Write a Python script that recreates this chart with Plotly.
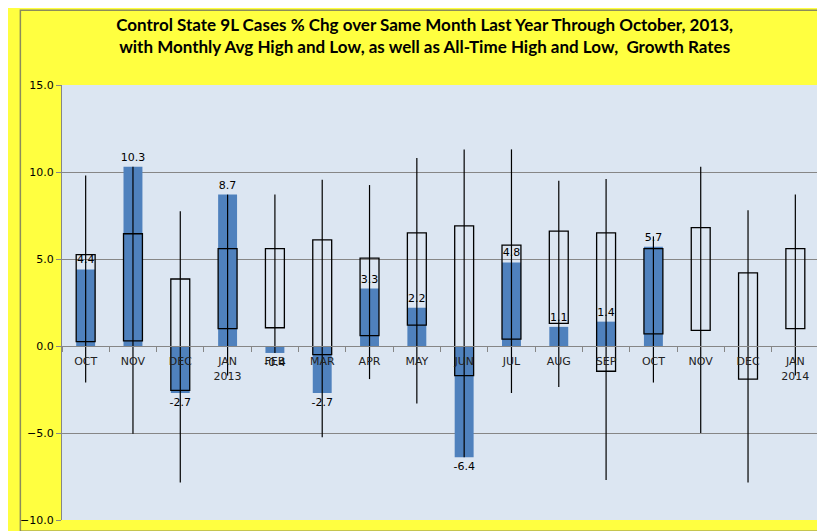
import plotly.graph_objects as go

# month labels (Oct 2012 .. Jan 2014)
months = ['OCT', 'NOV', 'DEC', 'JAN<br>2013', 'FEB', 'MAR', 'APR', 'MAY',
          'JUN', 'JUL', 'AUG', 'SEP', 'OCT', 'NOV', 'DEC', 'JAN<br>2014']

# actual % chg over same month last year
actual = [4.4, 10.3, -2.7, 8.7, -0.4, -2.7, 3.3, 2.2,
          -6.4, 4.8, 1.1, 1.4, 5.7, None, None, None]

# monthly average high / low (open boxes)
avg_high = [5.25, 6.45, 3.85, 5.6, 5.6, 6.1, 5.05, 6.5,
            6.9, 5.8, 6.6, 6.5, 5.6, 6.8, 4.2, 5.6]
avg_low = [0.25, 0.3, -2.55, 1.0, 1.05, -0.5, 0.6, 1.2,
           -1.7, 0.4, 1.3, -1.45, 0.7, 0.9, -1.9, 1.0]

# all-time high / low (whiskers)
all_high = [9.8, 10.3, 7.75, 8.7, 8.7, 9.55, 9.25, 10.8,
            11.3, 11.3, 9.5, 9.6, 6.3, 10.3, 7.8, 8.7]
all_low = [-2.1, -5.05, -7.85, -1.7, -0.4, -5.25, -1.9, -3.3,
           -6.4, -2.7, -2.35, -7.7, -2.1, -5.0, -7.85, -1.7]

title = ('Control State 9L Cases % Chg over Same Month Last Year Through October, 2013,<br>'
         'with Monthly Avg High and Low, as well as All-Time High and Low,  Growth Rates')

xs = list(range(len(months)))

fig = go.Figure()

fig.add_trace(go.Bar(
    x=xs, y=actual, width=0.4,
    marker_color='#4F81BD', marker_line_width=0,
    text=['' if v is None else f'{v:.1f}' for v in actual],
    textposition='outside', cliponaxis=False, constraintext='none',
    textfont=dict(family='DejaVu Sans', size=11, color='black'),
    showlegend=False))

fig.add_trace(go.Bar(
    x=xs, base=avg_low, y=[h - l for h, l in zip(avg_high, avg_low)], width=0.4,
    marker_color='rgba(0,0,0,0)',
    marker_line=dict(color='black', width=1.3),
    showlegend=False))

wx, wy = [], []
for x, h, l in zip(xs, all_high, all_low):
    wx += [x, x, None]
    wy += [h, l, None]
fig.add_trace(go.Scatter(x=wx, y=wy, mode='lines',
                         line=dict(color='black', width=1.2),
                         showlegend=False, hoverinfo='skip'))

# frame around the whole chart
fig.add_shape(type='rect', xref='paper', yref='paper',
              x0=-0.055, x1=1.0163, y0=-0.026, y1=1.172,
              line=dict(color='#8C8C5A', width=1.5), layer='below')

fig.update_layout(
    width=825, height=531,
    barmode='overlay',
    paper_bgcolor='#FFFF40',
    plot_bgcolor='#DCE6F2',
    margin=dict(l=43, r=14, t=77, b=13),
    title=dict(text=title, x=0.505, xanchor='center', y=0.956, yanchor='top',
               font=dict(family='Lato', size=17, color='black', weight='bold')),
    xaxis=dict(range=[-0.5, 15.5], tickvals=xs, ticktext=months,
               anchor='free', position=0.4,
               showline=True, linecolor='#868686', linewidth=1,
               showgrid=False, zeroline=False, ticks='',
               minor=dict(ticks='outside', tick0=-0.5, dtick=1, ticklen=5,
                          tickcolor='#868686', showgrid=False),
               ticklabelstandoff=5,
               tickfont=dict(family='DejaVu Sans', size=11, color='#222')),
    yaxis=dict(range=[-10, 15], dtick=5, tickformat='.1f',
               showgrid=True, gridcolor='#868686', gridwidth=1,
               zeroline=False, showline=True, linecolor='#868686',
               ticks='outside', ticklen=5, tickcolor='#868686',
               tickfont=dict(family='DejaVu Sans', size=11, color='black')),
)

fig.write_html("out.html")
